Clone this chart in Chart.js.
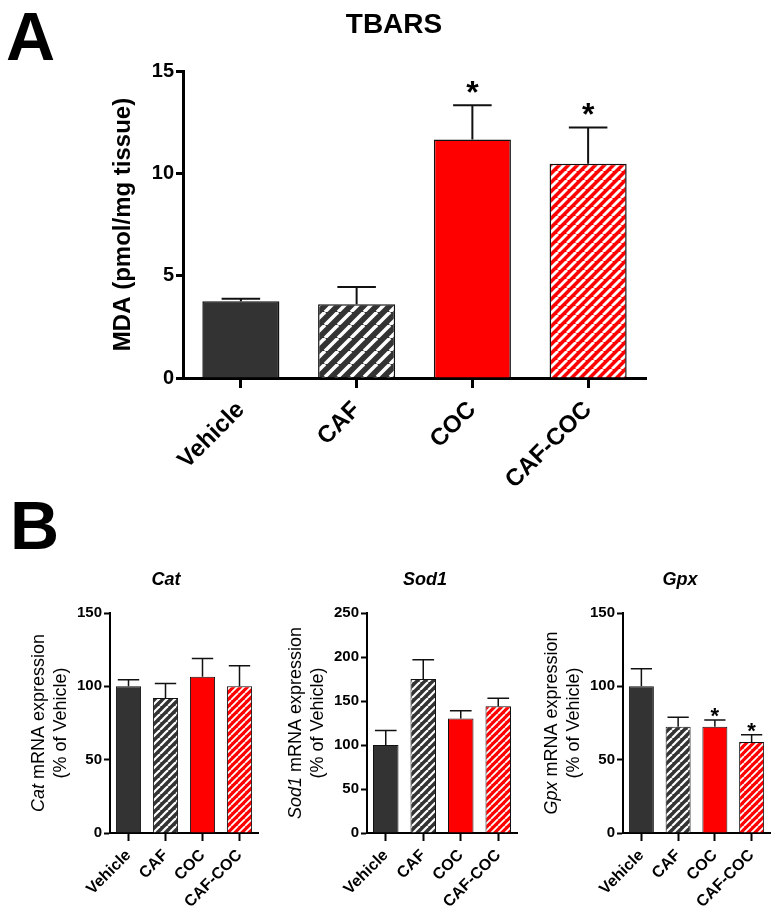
<!DOCTYPE html>
<html>
<head>
<meta charset="utf-8">
<script src="https://cdn.jsdelivr.net/npm/chart.js@4.4.1/dist/chart.umd.min.js"></script>
<style>
body { margin: 0; background: #fff; }
#wrap { position: relative; width: 780px; height: 920px; }
canvas { position: absolute; }
</style>
</head>
<body>
<div id="wrap">
  <canvas id="chartA" width="780" height="490" style="left:0;top:0"></canvas>
  <canvas id="chartCat" width="260" height="430" style="left:0;top:490px"></canvas>
  <canvas id="chartSod" width="260" height="430" style="left:260px;top:490px"></canvas>
  <canvas id="chartGpx" width="260" height="430" style="left:520px;top:490px"></canvas>
</div>
<script>
// groups and values (mean, SEM)
const groups = ['Vehicle', 'CAF', 'COC', 'CAF-COC'];

const tbarsMean = [3.75, 3.6, 11.65, 10.47];
const tbarsSem = [0.12, 0.85, 1.68, 1.77];
const tbarsSig = [false, false, true, true];

const catMean = [100, 92, 106.5, 100];
const catSem = [4.5, 10, 12.5, 14];

const sod1Mean = [100, 175, 130, 144];
const sod1Sem = [16.5, 22, 9, 9];

const gpxMean = [100, 72.5, 72.5, 62];
const gpxSem = [12, 6.5, 4.5, 5];
const gpxSig = [false, false, true, true];

const FONT = '"Liberation Sans", Arial, sans-serif';
const dark = '#333333';
const red = '#ff0000';

function hatch(ctx, base, size, lw) {
    const c = document.createElement('canvas');
    c.width = size;
    c.height = size;
    const g = c.getContext('2d');
    g.fillStyle = base;
    g.fillRect(0, 0, size, size);
    g.strokeStyle = '#fff';
    g.lineWidth = lw;
    for (const k of [-size, 0, size]) {
        g.beginPath();
        g.moveTo(k, size);
        g.lineTo(k + size, 0);
        g.stroke();
    }
    return ctx.createPattern(c, 'repeat');
}

// error bars, stars, y title and loose texts
const extras = {
    id: 'extras',
    afterDatasetsDraw(chart, args, o) {
        const ctx = chart.ctx;
        const meta = chart.getDatasetMeta(0);
        const y = chart.scales.y;
        const mean = chart.data.datasets[0].data;
        ctx.save();
        ctx.strokeStyle = '#111';
        ctx.lineWidth = o.errWidth;
        meta.data.forEach((bar, i) => {
            const top = y.getPixelForValue(mean[i] + o.sem[i]);
            const half = bar.width * o.capFrac / 2;
            ctx.beginPath();
            ctx.moveTo(bar.x, bar.y);
            ctx.lineTo(bar.x, top);
            ctx.moveTo(bar.x - half, top);
            ctx.lineTo(bar.x + half, top);
            ctx.stroke();
            if (o.sig && o.sig[i]) {
                ctx.fillStyle = '#000';
                ctx.font = o.starFont;
                ctx.textAlign = 'center';
                ctx.textBaseline = 'alphabetic';
                ctx.fillText('*', bar.x, top + o.starShift);
            }
        });
        ctx.restore();
    },
    afterDraw(chart, args, o) {
        const ctx = chart.ctx;
        const area = chart.chartArea;
        ctx.save();
        ctx.fillStyle = '#000';
        (o.texts || []).forEach(t => {
            ctx.font = t.font;
            ctx.textAlign = t.align || 'center';
            ctx.textBaseline = 'alphabetic';
            ctx.fillText(t.text, t.x, t.y);
        });
        const cy = (area.top + area.bottom) / 2;
        (o.yTitle || []).forEach(line => {
            ctx.save();
            ctx.translate(area.left - line.dx, cy);
            ctx.rotate(-Math.PI / 2);
            ctx.textBaseline = 'middle';
            ctx.textAlign = 'left';
            let w = 0;
            line.parts.forEach(p => { ctx.font = p.font; w += ctx.measureText(p.text).width; });
            let x = -w / 2;
            line.parts.forEach(p => {
                ctx.font = p.font;
                ctx.fillText(p.text, x, 0);
                x += ctx.measureText(p.text).width;
            });
            ctx.restore();
        });
        ctx.restore();
    }
};

function makeChart(id, cfg) {
    const ctx = document.getElementById(id).getContext('2d');
    const axisLine = { color: '#000', width: cfg.axisW };
    return new Chart(ctx, {
        type: 'bar',
        data: {
            labels: groups,
            datasets: [{
                data: cfg.mean,
                backgroundColor: [dark, hatch(ctx, dark, cfg.hatchDark, cfg.hatchLw), red, hatch(ctx, red, cfg.hatchRed, cfg.hatchLw * 0.8)],
                borderColor: '#111',
                borderWidth: cfg.barBorder,
                barPercentage: cfg.barPct,
                categoryPercentage: 1
            }]
        },
        options: {
            responsive: false,
            animation: false,
            layout: { padding: { top: cfg.padTop, right: cfg.padRight, left: 0, bottom: 0 } },
            plugins: {
                legend: { display: false },
                tooltip: { enabled: false },
                extras: {
                    sem: cfg.sem, sig: cfg.sig, capFrac: cfg.capFrac, errWidth: cfg.errW,
                    starFont: cfg.starFont, starShift: cfg.starShift,
                    texts: cfg.texts, yTitle: cfg.yTitle
                }
            },
            scales: {
                x: {
                    grid: { offset: false, drawOnChartArea: false, tickLength: cfg.xTick, tickWidth: cfg.axisW, tickColor: '#000' },
                    border: axisLine,
                    ticks: { color: '#000', font: { family: FONT, size: cfg.xFont, weight: 'bold' }, minRotation: 45, maxRotation: 45, padding: cfg.xPad },
                    afterFit: s => { s.height = cfg.xHeight; }
                },
                y: {
                    min: 0,
                    max: cfg.yMax,
                    grid: { drawOnChartArea: false, tickLength: cfg.yTick, tickWidth: cfg.axisW, tickColor: '#000' },
                    border: axisLine,
                    ticks: { stepSize: cfg.yStep, color: '#000', font: { family: FONT, size: cfg.yFont, weight: 'bold' }, padding: 2 },
                    afterFit: s => { s.width = cfg.yWidth; }
                }
            }
        },
        plugins: [extras]
    });
}

// panel A
makeChart('chartA', {
    mean: tbarsMean, sem: tbarsSem, sig: tbarsSig,
    yMax: 15, yStep: 5,
    padTop: 71, padRight: 134, yWidth: 183, xHeight: 112,
    axisW: 3, xTick: 10, yTick: 7, xFont: 24, yFont: 20, xPad: 8,
    barPct: 0.666, barBorder: 1.5, hatchDark: 13, hatchRed: 9, hatchLw: 3.5,
    capFrac: 0.5, errW: 2, starFont: 'bold 32px ' + FONT, starShift: -2,
    texts: [
        { text: 'A', x: 6, y: 60, font: 'bold 68px ' + FONT, align: 'left' },
        { text: 'TBARS', x: 394, y: 33, font: 'bold 28px ' + FONT }
    ],
    yTitle: [{ dx: 60, parts: [{ text: 'MDA (pmol/mg tissue)', font: 'bold 24px ' + FONT }] }]
});

// panel B
const bBase = {
    padTop: 123, xHeight: 87,
    axisW: 2, xTick: 8, yTick: 6, xFont: 16, yFont: 15, xPad: 5,
    barPct: 0.68, barBorder: 1, hatchDark: 8, hatchRed: 7, hatchLw: 2.2,
    capFrac: 0.85, errW: 1.5, starFont: 'bold 22px ' + FONT, starShift: 3
};

function yTitleB(gene) {
    return [
        { dx: 71, parts: [{ text: gene, font: 'italic 18px ' + FONT }, { text: ' mRNA expression', font: '18px ' + FONT }] },
        { dx: 49, parts: [{ text: '(% of Vehicle)', font: '18px ' + FONT }] }
    ];
}

makeChart('chartCat', Object.assign({}, bBase, {
    mean: catMean, sem: catSem, yMax: 150, yStep: 50,
    padRight: 2, yWidth: 110,
    texts: [
        { text: 'B', x: 10, y: 59, font: 'bold 68px ' + FONT, align: 'left' },
        { text: 'Cat', x: 166, y: 95, font: 'italic bold 18px ' + FONT }
    ],
    yTitle: yTitleB('Cat')
}));

makeChart('chartSod', Object.assign({}, bBase, {
    mean: sod1Mean, sem: sod1Sem, yMax: 250, yStep: 50,
    padRight: 3, yWidth: 107,
    texts: [{ text: 'Sod1', x: 165, y: 95, font: 'italic bold 18px ' + FONT }],
    yTitle: yTitleB('Sod1')
}));

makeChart('chartGpx', Object.assign({}, bBase, {
    mean: gpxMean, sem: gpxSem, sig: gpxSig, yMax: 150, yStep: 50,
    padRight: 10, yWidth: 103,
    texts: [{ text: 'Gpx', x: 160, y: 95, font: 'italic bold 18px ' + FONT }],
    yTitle: yTitleB('Gpx')
}));
</script>
</body>
</html>
